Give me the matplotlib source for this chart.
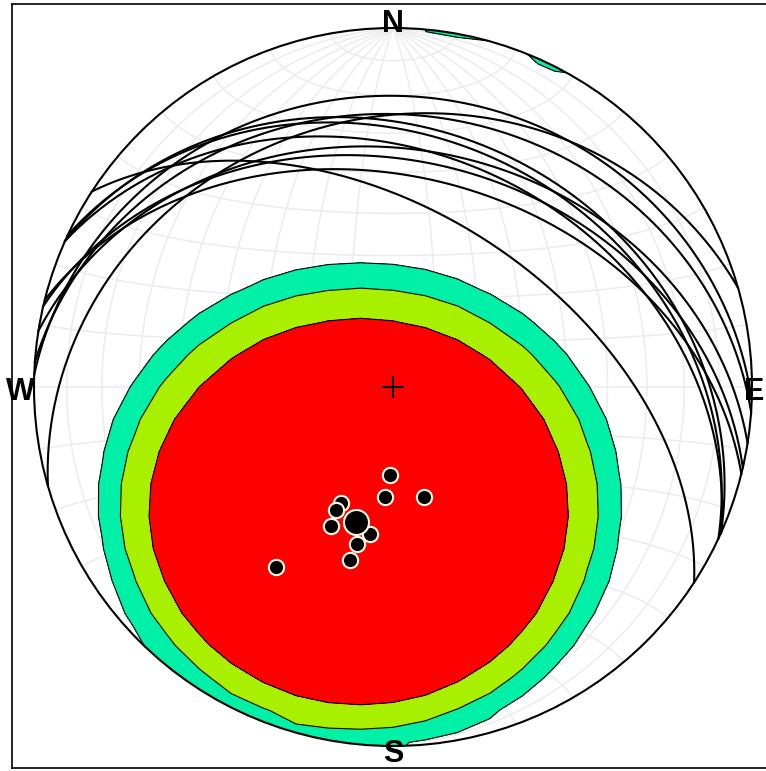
import numpy as np
import matplotlib
matplotlib.use('Agg')
import matplotlib.pyplot as plt
from matplotlib.patches import Circle

# measured planes, lower hemisphere (dip direction / dip, degrees)
dip_dirs = [2, 4, 344, 24, 25, 24, 9, 13, 14, 33]
dips = [20, 25, 26, 29, 31, 35, 34, 37, 41, 50]

# density contouring (exponential kamb style smoothing)
smoothing = 4.22
contour_levels = [1.36, 1.90, 2.75]
contour_colors = ['#00f0a8', '#a8f000', '#ff0000']

net_step = 10
labels = ['N', 'E', 'S', 'W']


def line_vec(trend, plunge):
	t, p = np.radians(trend), np.radians(plunge)
	return np.array([np.cos(p) * np.cos(t), np.cos(p) * np.sin(t), np.sin(p)])


def project(v):
	# equal-area (schmidt) projection of unit vectors (north, east, down)
	n, e, d = v
	f = np.sqrt(1 + d)
	return e / f, n / f


def great_circle(dipdir, dip, num=200):
	a = np.radians(np.linspace(0, 180, num))
	s = line_vec(dipdir - 90, 0)
	dv = line_vec(dipdir, dip)
	v = np.outer(s, np.cos(a)) + np.outer(dv, np.sin(a))
	v[2] = np.clip(v[2], 0, None)
	return project(v)


def small_circle_ns(lat, num=200):
	phi = np.radians(np.linspace(0, 180, num))
	L = np.radians(lat)
	v = np.array([np.full_like(phi, np.sin(L)), np.cos(L) * np.cos(phi), np.cos(L) * np.sin(phi)])
	return project(v)


fig = plt.figure(figsize=(7.66, 7.71), dpi=100)
ax = fig.add_axes([12 / 766, 3 / 771, 754 / 766, 764 / 771])
R = 359.0
ax.set_xlim(-381 / R, 373 / R)
ax.set_ylim(-381 / R, 383 / R)
ax.set_xticks([])
ax.set_yticks([])
for sp in ax.spines.values():
	sp.set_linewidth(1.2)
ax.spines['right'].set_visible(False)

# net
for dip in range(net_step, 90, net_step):
	for dd in (90, 270):
		x, y = great_circle(dd, dip)
		ax.plot(x, y, color='#ececec', lw=1.1, zorder=1)
for lat in range(-90 + net_step, 90, net_step):
	x, y = small_circle_ns(lat)
	ax.plot(x, y, color='#ececec', lw=1.1, zorder=1)

# poles
poles = np.array([line_vec(dd + 180, 90 - dp) for dd, dp in zip(dip_dirs, dips)])
mean = poles.sum(axis=0)
mean /= np.linalg.norm(mean)

# density grid (coarse, like the original counting grid)
g = np.linspace(-1.08, 1.08, 25)
X, Y = np.meshgrid(g, g)
r = np.hypot(X, Y)
sc = np.where(r > 1, 1 / np.maximum(r, 1e-9), 1.0)
Xc, Yc = X * sc, Y * sc
D = 1 - (Xc ** 2 + Yc ** 2)
f = np.sqrt(1 + D)
V = np.stack([Yc * f, Xc * f, D], axis=-1)
cosd = np.abs(V @ poles.T)
dens = np.exp(smoothing * (cosd - 1)).sum(axis=-1)

clip = Circle((0, 0), 1, transform=ax.transData)
cs = ax.contourf(X, Y, dens, levels=contour_levels + [dens.max() + 1], colors=contour_colors, zorder=2)
cs.set_clip_path(clip)
cl = ax.contour(X, Y, dens, levels=contour_levels, colors='k', linewidths=0.8, zorder=3)
cl.set_clip_path(clip)

# great circles
for dd, dp in zip(dip_dirs, dips):
	x, y = great_circle(dd, dp)
	ax.plot(x, y, color='k', lw=1.5, zorder=4)

ax.add_patch(Circle((0, 0), 1, fill=False, ec='k', lw=1.5, zorder=5))

px, py = project(poles.T)
ax.plot(px, py, 'o', ms=11, mfc='k', mec='#fffbe6', mew=1.5, zorder=6)
mx, my = project(mean)
ax.plot(mx, my, 'o', ms=18, mfc='k', mec='#fffbe6', mew=1.5, zorder=7)
ax.plot(0, 0, '+', ms=16, mew=1.5, color='k', zorder=7)

font = dict(fontsize=22, fontweight='bold', family='Liberation Sans', zorder=8)
ax.text(0, 0.989, labels[0], ha='center', va='baseline', **font)
ax.text(764 / R - 393 / R, -0.036, labels[1], ha='right', va='baseline', **font)
ax.text(0, -1.045, labels[2], ha='center', va='baseline', **font)
ax.text(35 / R - 393 / R, -0.036, labels[3], ha='right', va='baseline', **font)

fig.savefig('out.png', dpi=100, facecolor='white')
